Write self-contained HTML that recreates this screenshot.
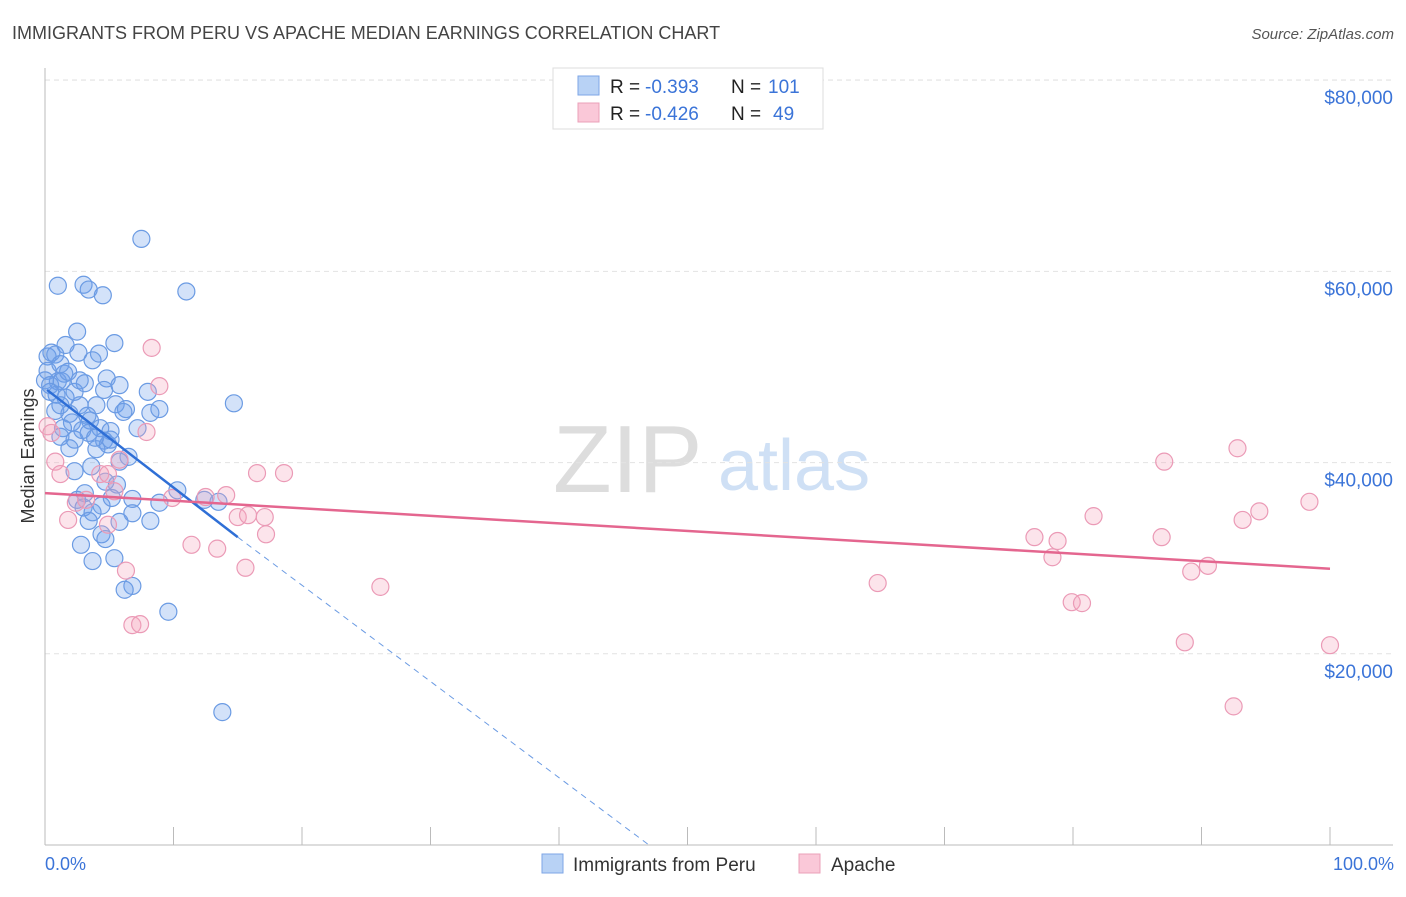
<!DOCTYPE html>
<html><head><meta charset="utf-8"><style>
body{margin:0;background:#fff;font-family:"Liberation Sans",sans-serif;}
svg text{font-family:"Liberation Sans",sans-serif;}
</style></head><body>
<svg id="chart" width="1406" height="892" xmlns="http://www.w3.org/2000/svg">
<text x="12" y="39" font-size="18" fill="#444">IMMIGRANTS FROM PERU VS APACHE MEDIAN EARNINGS CORRELATION CHART</text>
<text x="1394" y="39" font-size="15" fill="#555" font-style="italic" text-anchor="end">Source: ZipAtlas.com</text>
<g>
<text x="553" y="492" font-size="96" fill="#ddd" font-family="Liberation Serif">ZIP</text>
<text x="718" y="490" font-size="72" fill="#cfe0f5">atlas</text>
</g>
<g id="grid"></g>
<g id="axes"></g>
<g id="points"></g>
<g id="trends"></g>
<text transform="translate(34,456) rotate(-90)" font-size="18" fill="#333" text-anchor="middle">Median Earnings</text>
<text x="45" y="870" font-size="18" fill="#3b74d8">0.0%</text>
<text x="1394" y="870" font-size="18" fill="#3b74d8" text-anchor="end">100.0%</text>
<g>
<rect x="553" y="68" width="270" height="61" fill="#fff" stroke="#ddd"/>
<rect x="578" y="76" width="21" height="19" fill="#b8d2f5" stroke="#7ea6e6"/>
<rect x="578" y="103" width="21" height="19" fill="#fac8d8" stroke="#eba0b9"/>
<text x="610" y="93" font-size="19" fill="#222">R = <tspan x="645" fill="#3b74d8">-0.393</tspan><tspan x="731">N = </tspan><tspan x="768" fill="#3b74d8">101</tspan></text>
<text x="610" y="120" font-size="19" fill="#222">R = <tspan x="645" fill="#3b74d8">-0.426</tspan><tspan x="731">N = </tspan><tspan x="773" fill="#3b74d8">49</tspan></text>
</g>
<g>
<rect x="542" y="854" width="21" height="19" fill="#b8d2f5" stroke="#7ea6e6"/>
<text x="573" y="871" font-size="19" fill="#333">Immigrants from Peru</text>
<rect x="799" y="854" width="21" height="19" fill="#fac8d8" stroke="#eba0b9"/>
<text x="831" y="871" font-size="19" fill="#333">Apache</text>
</g>
</svg>
<script>
const yTicks=[20000,40000,60000,80000];
const yTickLabels=["$20,000","$40,000","$60,000","$80,000"];
const xTicks=[0,10,20,30,40,50,60,70,80,90,100];
const peruX=[7.5,1.0,3.0,3.4,4.5,11.0,2.5,5.4,0.5,0.2,2.6,4.2,3.7,0.2,1.5,1.0,0.0,4.8,5.8,0.4,1.3,3.1,4.6,8.0,14.7,0.9,1.6,2.7,4.0,5.5,6.3,8.2,8.9,0.8,1.9,3.3,2.1,3.5,1.4,4.3,5.1,7.2,1.2,2.3,3.4,4.6,4.9,1.9,4.0,6.5,5.8,3.6,2.3,4.7,5.6,10.3,3.1,2.5,6.8,12.4,13.5,8.9,3.0,4.4,3.7,6.8,5.8,8.2,3.4,4.4,4.7,2.8,5.4,3.7,6.8,6.2,9.6,13.8,0.8,1.2,1.8,0.4,1.2,2.3,2.9,3.9,5.2,5.1,2.7,1.6,6.1];
const peruY=[63.4,58.5,58.6,58.1,57.5,57.9,53.7,52.5,51.5,51.1,51.5,51.4,50.7,49.6,49.3,48.5,48.6,48.8,48.1,48.1,48.5,48.3,47.6,47.4,46.2,47.1,46.8,46.0,46.0,46.1,45.6,45.2,45.6,45.4,45.1,44.9,44.2,44.4,43.6,43.6,43.3,43.6,42.7,42.4,43.1,42.3,41.9,41.5,41.4,40.6,40.1,39.6,39.1,38.0,37.7,37.1,36.8,36.1,36.2,36.1,35.9,35.8,35.3,35.5,34.8,34.7,33.8,33.9,33.9,32.5,32.0,31.4,30.0,29.7,27.1,26.7,24.4,13.9,51.3,50.3,49.5,47.4,46.0,47.4,43.4,42.6,36.3,42.4,48.6,52.3,45.3];
const apacheX=[8.3,8.9,7.9,0.8,1.2,4.3,4.9,5.8,1.8,2.4,3.2,5.4,9.9,12.5,14.1,16.5,18.6,15.0,17.1,15.8,17.2,11.4,13.4,15.6,6.3,6.8,7.4,26.1,64.8,77.0,78.8,78.4,81.6,79.9,80.7,87.1,86.9,89.2,90.5,88.7,92.8,93.2,94.5,98.4,100,92.5,0.2,0.5,4.9];
const apacheY=[52.0,48.0,43.2,40.1,38.8,38.8,38.8,40.3,34.0,35.8,36.1,37.0,36.3,36.4,36.6,38.9,38.9,34.3,34.3,34.5,32.5,31.4,31.0,29.0,28.7,23.0,23.1,27.0,27.4,32.2,31.8,30.1,34.4,25.4,25.3,40.1,32.2,28.6,29.2,21.2,41.5,34.0,34.9,35.9,20.9,14.5,43.8,43.1,33.5];
const peruTrend=[[0.16,47600],[15,32200],[47,0]];
const apacheTrend=[[0,36800],[100,28900]];
const NS="http://www.w3.org/2000/svg";
const X=v=>45+v*12.85;
const Y=v=>845-v/104.6;
function mk(tag,attrs,parent){const e=document.createElementNS(NS,tag);for(const k in attrs)e.setAttribute(k,attrs[k]);parent.appendChild(e);return e;}
const grid=document.getElementById('grid'),axes=document.getElementById('axes'),pts=document.getElementById('points'),tr=document.getElementById('trends');
yTicks.forEach((t,i)=>{
 const l=mk('line',{x1:45,x2:1393,y1:Y(t),y2:Y(t),stroke:'#e2e2e2','stroke-dasharray':'5,4'},grid);
 
 
 const tx=mk('text',{x:1393,y:Y(t)+24,'font-size':19,fill:'#3b74d8','text-anchor':'end'},grid);
 tx.textContent=yTickLabels[i];
 
 
});
const topLine=mk('line',{x1:45,x2:1393,y1:80,y2:80,stroke:'#e2e2e2','stroke-dasharray':'5,4'},grid);


const ya=mk('line',{x1:45,x2:45,y1:68,y2:845,stroke:'#bbb'},axes);


const xa=mk('line',{x1:45,x2:1393,y1:845,y2:845,stroke:'#bbb'},axes);


xTicks.forEach(t=>{
 const l=mk('line',{x1:X(t),x2:X(t),y1:827,y2:845,stroke:'#bbb'},axes);
 
 
});
peruX.forEach((x,i)=>{
 const c=mk('circle',{cx:X(x),cy:Y(peruY[i]*1000),r:8.5,fill:'rgba(110,160,235,0.3)',stroke:'#6b9be3','stroke-width':1.2},pts);
 
 
});
apacheX.forEach((x,i)=>{
 const c=mk('circle',{cx:X(x),cy:Y(apacheY[i]*1000),r:8.5,fill:'rgba(245,165,190,0.3)',stroke:'#eb9ab6','stroke-width':1.2},pts);
 
 
});
const p1=mk('line',{x1:X(peruTrend[0][0]),y1:Y(peruTrend[0][1]),x2:X(peruTrend[1][0]),y2:Y(peruTrend[1][1]),stroke:'#2f6fd6','stroke-width':2.5},tr);


const p2=mk('line',{x1:X(peruTrend[1][0]),y1:Y(peruTrend[1][1]),x2:X(peruTrend[2][0]),y2:Y(peruTrend[2][1]),stroke:'#6b9be3','stroke-width':1,'stroke-dasharray':'6,5'},tr);


const a1=mk('line',{x1:X(apacheTrend[0][0]),y1:Y(apacheTrend[0][1]),x2:X(apacheTrend[1][0]),y2:Y(apacheTrend[1][1]),stroke:'#e4668f','stroke-width':2.5},tr);


</script>
</body></html>
